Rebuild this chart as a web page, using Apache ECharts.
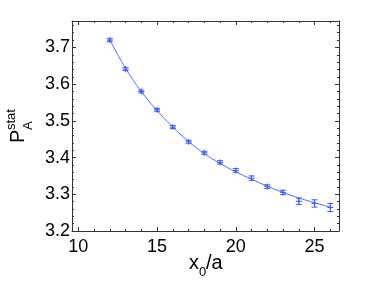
<!DOCTYPE html>
<html>
<head>
<meta charset="utf-8">
<script src="https://cdn.jsdelivr.net/npm/echarts@6/dist/echarts.min.js"></script>
<style>
html,body{margin:0;padding:0;background:#fff;}
#c{width:376px;height:283px;}
</style>
</head>
<body>
<div id="c"></div>
<script>
// ---- data ----
var xValues   = [12, 13, 14, 15, 16, 17, 18, 19, 20, 21, 22, 23, 24, 25, 26];
var pValues   = [3.720, 3.641, 3.580, 3.530, 3.483, 3.443, 3.413, 3.387, 3.365, 3.344, 3.321, 3.305, 3.281, 3.275, 3.264];
var pErrors   = [0.004, 0.004, 0.004, 0.004, 0.004, 0.004, 0.004, 0.0045, 0.005, 0.006, 0.005, 0.006, 0.009, 0.010, 0.011];
var fitValues = [3.721, 3.643, 3.580, 3.528, 3.483, 3.444, 3.411, 3.384, 3.361, 3.341, 3.322, 3.305, 3.290, 3.277, 3.265];
var xTickLabels = [10, 15, 20, 25];
var yTickLabels = [3.2, 3.3, 3.4, 3.5, 3.6, 3.7];
var xMinorTicks = [11, 12, 13, 14, 16, 17, 18, 19, 21, 22, 23, 24, 26];
var yMinorTicks = [3.22, 3.24, 3.26, 3.28, 3.32, 3.34, 3.36, 3.38, 3.42, 3.44, 3.46, 3.48,
                   3.52, 3.54, 3.56, 3.58, 3.62, 3.64, 3.66, 3.68, 3.72, 3.74, 3.76];

var X_MIN = 9.6, X_MAX = 26.55, Y_MIN = 3.2, Y_MAX = 3.772;
var AX = '#333';
var BLUE = '#3a5cff';
var FONT = 'Liberation Sans, Arial, Helvetica, sans-serif';

var errData = xValues.map(function (x, i) { return [x, pValues[i], pErrors[i]]; });
var fitData = xValues.map(function (x, i) { return [x, fitValues[i]]; });

function xAx(pos, ticks, len, showLine, labels) {
  return {
    type: 'value', min: X_MIN, max: X_MAX, position: pos,
    axisLine: { show: showLine, onZero: false, lineStyle: { color: AX, width: 1 } },
    axisTick: { show: true, inside: true, length: len, customValues: ticks, lineStyle: { color: AX, width: 1 } },
    axisLabel: labels ? { show: true, customValues: labels, margin: 7, color: '#000', fontSize: 18, fontFamily: FONT } : { show: false },
    splitLine: { show: false }
  };
}
function yAx(pos, ticks, len, showLine, labels) {
  return {
    type: 'value', min: Y_MIN, max: Y_MAX, position: pos,
    axisLine: { show: showLine, onZero: false, lineStyle: { color: AX, width: 1 } },
    axisTick: { show: true, inside: true, length: len, customValues: ticks, lineStyle: { color: AX, width: 1 } },
    axisLabel: labels ? { show: true, customValues: labels, margin: 2, color: '#000', fontSize: 18, fontFamily: FONT,
      formatter: function (v) { return v.toFixed(1); } } : { show: false },
    splitLine: { show: false }
  };
}

var chart = echarts.init(document.getElementById('c'), null, { renderer: 'canvas' });
chart.setOption({
  animation: false,
  backgroundColor: '#fff',
  grid: { left: 72, top: 21, right: 37, bottom: 52, containLabel: false },
  xAxis: [
    xAx('bottom', xTickLabels, 4, true, xTickLabels),
    xAx('bottom', xMinorTicks, 2, false, null),
    xAx('top', xTickLabels, 4, true, null),
    xAx('top', xMinorTicks, 2, false, null)
  ],
  yAxis: [
    yAx('left', yTickLabels, 4, true, yTickLabels),
    yAx('left', yMinorTicks, 2, false, null),
    yAx('right', yTickLabels, 4, true, null),
    yAx('right', yMinorTicks, 2, false, null)
  ],
  series: [
    {
      type: 'line', xAxisIndex: 0, yAxisIndex: 0, data: fitData, smooth: 0.4,
      showSymbol: false, symbol: 'none',
      lineStyle: { color: BLUE, width: 0.9 }, z: 2
    },
    {
      type: 'custom', xAxisIndex: 0, yAxisIndex: 0, data: errData, z: 3,
      renderItem: function (params, api) {
        var x = api.value(0), y = api.value(1), e = api.value(2);
        var t = api.coord([x, y + e]), b = api.coord([x, y - e]), c = api.coord([x, y]);
        var cw = 3, mw = 3;
        var st = { stroke: BLUE, lineWidth: 1, fill: null };
        return {
          type: 'group',
          children: [
            { type: 'line', shape: { x1: t[0], y1: t[1], x2: b[0], y2: b[1] }, style: st },
            { type: 'line', shape: { x1: t[0] - cw, y1: t[1], x2: t[0] + cw, y2: t[1] }, style: st },
            { type: 'line', shape: { x1: b[0] - cw, y1: b[1], x2: b[0] + cw, y2: b[1] }, style: st },
            { type: 'line', shape: { x1: c[0] - mw, y1: c[1], x2: c[0] + mw, y2: c[1] }, style: st },
            { type: 'line', shape: { x1: c[0], y1: c[1] - mw, x2: c[0], y2: c[1] + mw }, style: st }
          ]
        };
      }
    }
  ],
  graphic: [
    // x-axis title: x_0/a
    { type: 'text', x: 189, y: 263, style: { text: 'x', font: '20px ' + FONT, fill: '#000', align: 'left', verticalAlign: 'middle' } },
    { type: 'text', x: 199, y: 272, style: { text: '0', font: '13px ' + FONT, fill: '#000', align: 'left', verticalAlign: 'middle' } },
    { type: 'text', x: 206, y: 263, style: { text: '/a', font: '20px ' + FONT, fill: '#000', align: 'left', verticalAlign: 'middle' } },
    // y-axis title: P_A^stat (rotated)
    { type: 'text', x: 18, y: 143, rotation: Math.PI / 2, style: { text: 'P', font: '20px ' + FONT, fill: '#000', align: 'left', verticalAlign: 'middle' } },
    { type: 'text', x: 28, y: 130, rotation: Math.PI / 2, style: { text: 'A', font: '13px ' + FONT, fill: '#000', align: 'left', verticalAlign: 'middle' } },
    { type: 'text', x: 11, y: 130, rotation: Math.PI / 2, style: { text: 'stat', font: '13px ' + FONT, fill: '#000', align: 'left', verticalAlign: 'middle' } }
  ]
});
</script>
</body>
</html>
